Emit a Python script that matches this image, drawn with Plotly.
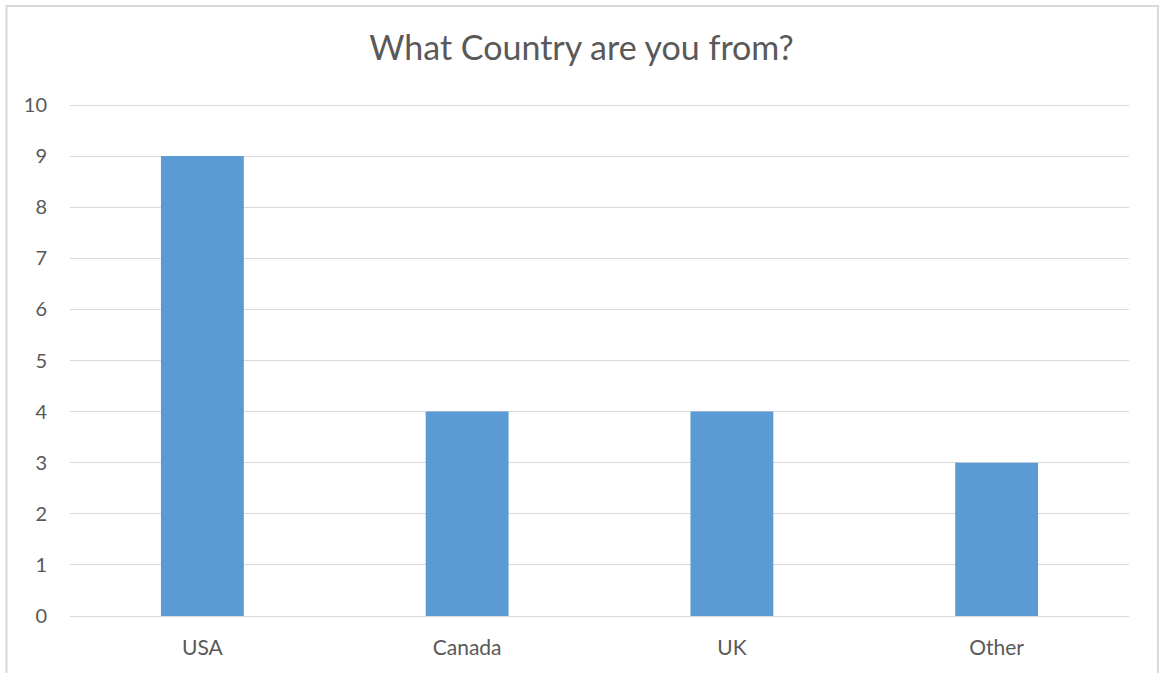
import plotly.graph_objects as go

categories = ["USA", "Canada", "UK", "Other"]
counts = [9, 4, 4, 3]
y_ticks = list(range(0, 11))

W, H = 1163, 673
L, R, T, B = 70, 33.5, 104, 57
pw, ph = W - L - R, H - T - B
y_top = 10.02

def px_to_paper_x(px):
    return (px - L) / pw

def px_to_paper_y(py):
    return (H - B - py) / ph

fig = go.Figure(go.Bar(
    x=categories, y=counts, marker=dict(color="#5B9BD5", line=dict(width=0)),
))

fig.update_layout(
    width=W, height=H,
    margin=dict(l=L, r=R, t=T, b=B, pad=0),
    paper_bgcolor="white", plot_bgcolor="white",
    bargap=0.687,
    showlegend=False,
    font=dict(family="Lato, Carlito, Open Sans, sans-serif", color="#595959", size=16),
    title=dict(text="What Country are you from?", x=0.5, xanchor="center",
               y=1 - 48 / H, yanchor="middle",
               font=dict(size=34, color="#595959")),
    xaxis=dict(showgrid=False, showline=True, linecolor="#d9d9d9", linewidth=1,
               ticks="", ticklabelstandoff=13, tickfont=dict(size=21)),
    yaxis=dict(range=[0, y_top], tickvals=y_ticks, showgrid=True, gridcolor="#d9d9d9",
               gridwidth=1, zeroline=False, showline=False, ticks="",
               ticklabelstandoff=22, tickfont=dict(size=20)),
    shapes=[dict(type="rect", xref="paper", yref="paper",
                 x0=px_to_paper_x(6.5), x1=px_to_paper_x(1158.5),
                 y0=px_to_paper_y(700), y1=px_to_paper_y(6),
                 line=dict(color="#d9d9d9", width=2), fillcolor="rgba(0,0,0,0)",
                 layer="below")],
)

fig.write_html("out.html")
